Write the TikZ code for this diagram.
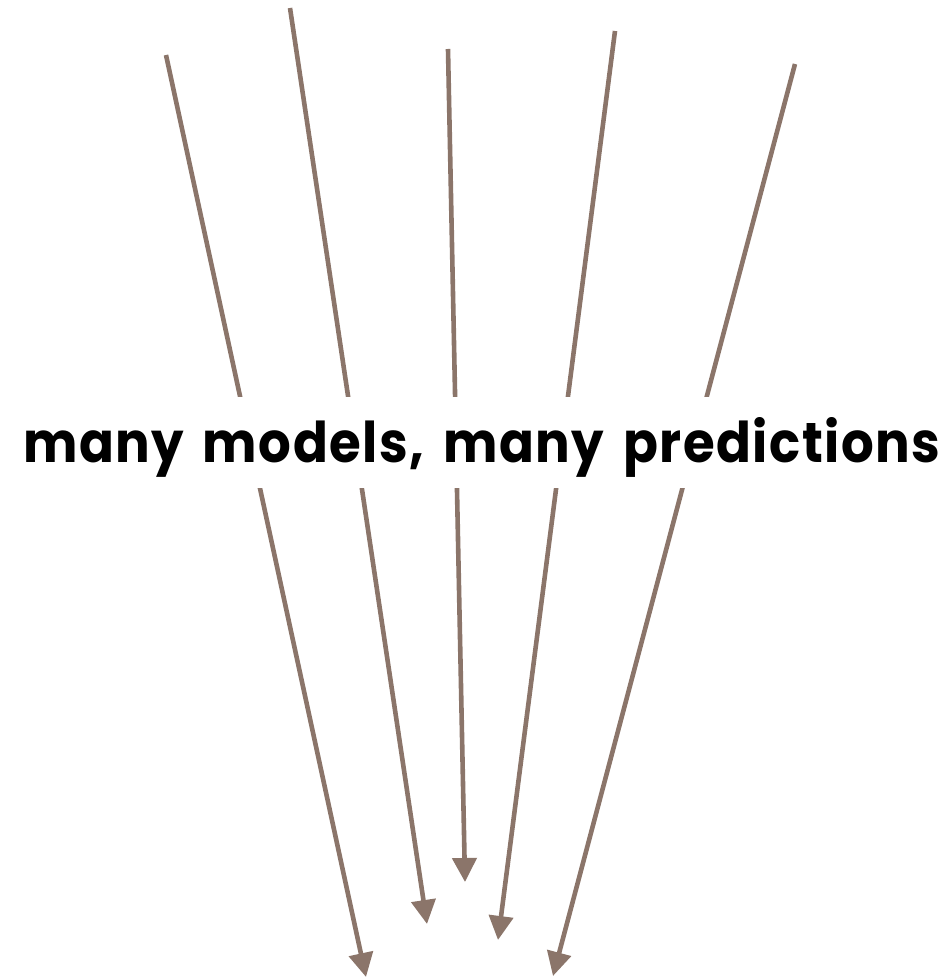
\documentclass[tikz,border=0pt]{standalone}
\usepackage{fontspec}
\setmainfont{Poppins}[BoldFont={* Bold}, BoldFeatures={LetterSpace=3, WordSpace=1.5}]
\usetikzlibrary{arrows.meta}
\definecolor{arrowbrown}{RGB}{139,117,106}
\tikzset{
  flow/.style={draw=arrowbrown, line width=4.6pt, -{Triangle[width=24pt,length=24pt]}},
  title/.style={fill=white, inner xsep=0pt, inner ysep=0pt, text height=66pt, text depth=25pt, anchor=base west}
}
\begin{document}
\begin{tikzpicture}[x=1pt,y=1pt]
\useasboundingbox (0,0) rectangle (951,978);
% start and end coordinates (y = 978 - pixel row)
\coordinate (s1) at (166,923); \coordinate (e1) at (366,1);
\coordinate (s2) at (290,970); \coordinate (e2) at (427,54);
\coordinate (s3) at (448,929); \coordinate (e3) at (465,96);
\coordinate (s4) at (615,947); \coordinate (e4) at (498,38);
\coordinate (s5) at (795,914); \coordinate (e5) at (553,2);
\foreach \i in {1,...,5} { \draw[flow] (s\i) -- (e\i); }
\node[title] (label) at (23,515) {\resizebox{917pt}{45pt}{\bfseries many models, many predictions}};
\end{tikzpicture}
\end{document}
